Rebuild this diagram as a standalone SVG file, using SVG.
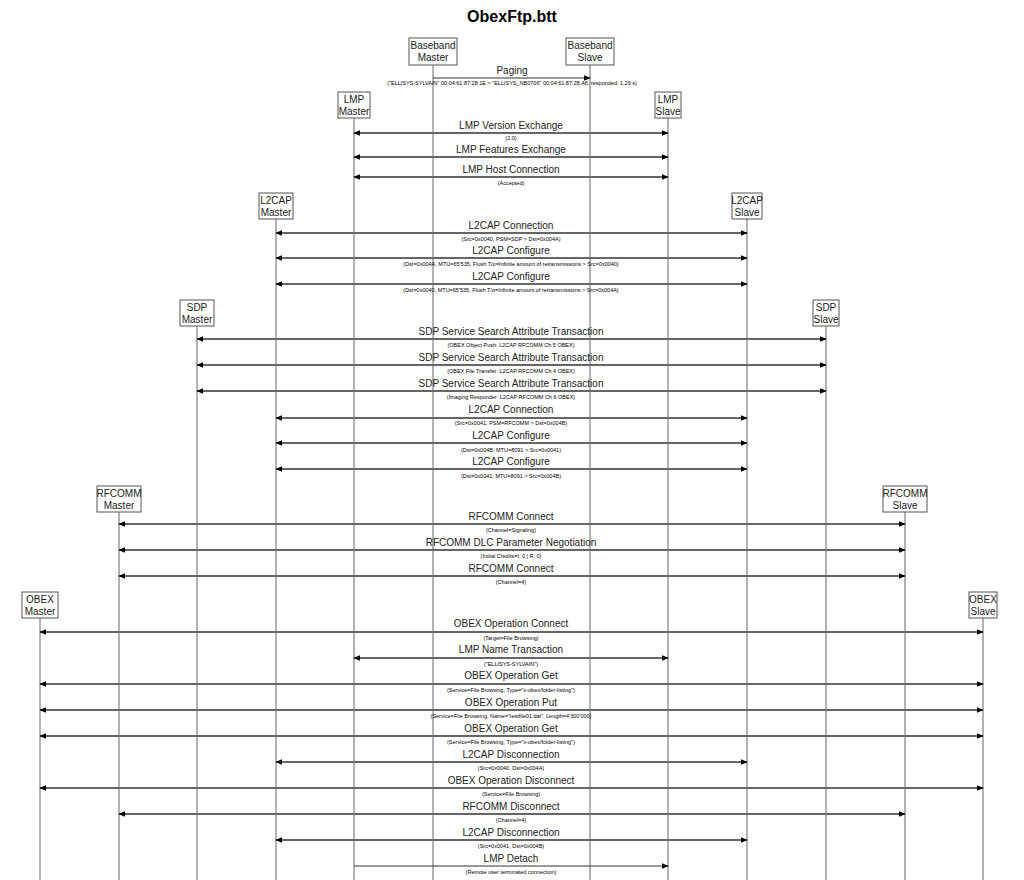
<svg xmlns="http://www.w3.org/2000/svg" width="1024" height="880" viewBox="0 0 1024 880">
<style>
text{font-family:"Liberation Sans",Arial,sans-serif;fill:#000;text-anchor:middle}
.t{font-size:16px;font-weight:bold}
.n{font-size:10px;fill:#222}
.l{font-size:10px;fill:#222}
.s{font-size:5.5px}
.box{fill:#fff;stroke:#555;stroke-width:1}
.life{stroke:#666;stroke-width:1}
.m{stroke:#666;stroke-width:2;marker-start:url(#a);marker-end:url(#a)}
.o{stroke:#333;stroke-width:1;marker-end:url(#a)}
</style>
<defs>
<marker id="a" viewBox="0 0 10 10" refX="9" refY="5" markerWidth="7" markerHeight="7" markerUnits="userSpaceOnUse" orient="auto-start-reverse"><path d="M0,1L10,5L0,9z" fill="#000"/></marker>
</defs>
<rect width="1024" height="880" fill="#fff"/>
<text class="t" x="512" y="22">ObexFtp.btt</text>
<g id="lifelines">
<line class="life" x1="433" y1="65" x2="433" y2="880"/><line class="life" x1="590" y1="65" x2="590" y2="880"/>
<line class="life" x1="354" y1="118" x2="354" y2="880"/><line class="life" x1="668" y1="118" x2="668" y2="880"/>
<line class="life" x1="276" y1="219" x2="276" y2="880"/><line class="life" x1="747" y1="219" x2="747" y2="880"/>
<line class="life" x1="197" y1="326" x2="197" y2="880"/><line class="life" x1="826" y1="326" x2="826" y2="880"/>
<line class="life" x1="119" y1="512" x2="119" y2="880"/><line class="life" x1="905" y1="512" x2="905" y2="880"/>
<line class="life" x1="40" y1="618" x2="40" y2="880"/><line class="life" x1="983" y1="618" x2="983" y2="880"/>
</g>
<g id="bbm"><rect class="box" x="409" y="38" width="48" height="27"/><text class="n" x="433" y="49">Baseband</text><text class="n" x="433" y="61">Master</text></g>
<g id="bbs"><rect class="box" x="566" y="38" width="48" height="27"/><text class="n" x="590" y="49">Baseband</text><text class="n" x="590" y="61">Slave</text></g>
<g id="lmpm"><rect class="box" x="338" y="92" width="32" height="26"/><text class="n" x="354" y="103">LMP</text><text class="n" x="354" y="115">Master</text></g>
<g id="lmps"><rect class="box" x="655" y="92" width="26" height="26"/><text class="n" x="668" y="103">LMP</text><text class="n" x="668" y="115">Slave</text></g>
<g id="l2m"><rect class="box" x="259" y="193" width="34" height="26"/><text class="n" x="276" y="204">L2CAP</text><text class="n" x="276" y="216">Master</text></g>
<g id="l2s"><rect class="box" x="732" y="193" width="30" height="26"/><text class="n" x="747" y="204">L2CAP</text><text class="n" x="747" y="216">Slave</text></g>
<g id="sdpm"><rect class="box" x="180" y="300" width="34" height="26"/><text class="n" x="197" y="311">SDP</text><text class="n" x="197" y="323">Master</text></g>
<g id="sdps"><rect class="box" x="813" y="300" width="26" height="26"/><text class="n" x="826" y="311">SDP</text><text class="n" x="826" y="323">Slave</text></g>
<g id="rfm"><rect class="box" x="97" y="486" width="44" height="26"/><text class="n" x="119" y="497">RFCOMM</text><text class="n" x="119" y="509">Master</text></g>
<g id="rfs"><rect class="box" x="883" y="486" width="44" height="26"/><text class="n" x="905" y="497">RFCOMM</text><text class="n" x="905" y="509">Slave</text></g>
<g id="obm"><rect class="box" x="22" y="592" width="36" height="26"/><text class="n" x="40" y="603">OBEX</text><text class="n" x="40" y="615">Master</text></g>
<g id="obs"><rect class="box" x="969" y="592" width="28" height="26"/><text class="n" x="983" y="603">OBEX</text><text class="n" x="983" y="615">Slave</text></g>
<g id="connectors">
<line class="o" x1="433" y1="78" x2="590" y2="78"/><text class="l" x="512" y="74">Paging</text><text class="s" x="512" y="85">("ELLISYS-SYLVAIN" 00:04:61:87:28:1E &gt; "ELLISYS_NB0706" 00:04:61:87:28:A6, responded, 1.29 s)</text>
<line class="m" x1="354" y1="133" x2="668" y2="133"/><text class="l" x="511" y="129">LMP Version Exchange</text><text class="s" x="511" y="140">(2.0)</text>
<line class="m" x1="354" y1="157" x2="668" y2="157"/><text class="l" x="511" y="153">LMP Features Exchange</text>
<line class="m" x1="354" y1="177" x2="668" y2="177"/><text class="l" x="511" y="173">LMP Host Connection</text><text class="s" x="511" y="185">(Accepted)</text>
<line class="m" x1="276" y1="233" x2="747" y2="233"/><text class="l" x="511" y="229">L2CAP Connection</text><text class="s" x="511" y="241">(Src=0x0040, PSM=SDP &gt; Dst=0x004A)</text>
<line class="m" x1="276" y1="258" x2="747" y2="258"/><text class="l" x="511" y="254">L2CAP Configure</text><text class="s" x="511" y="266">(Dst=0x004A, MTU=65'535, Flush T/o=Infinite amount of retransmissions &gt; Src=0x0040)</text>
<line class="m" x1="276" y1="284" x2="747" y2="284"/><text class="l" x="511" y="280">L2CAP Configure</text><text class="s" x="511" y="292">(Dst=0x0040, MTU=65'535, Flush T/o=Infinite amount of retransmissions &gt; Src=0x004A)</text>
<line class="m" x1="197" y1="339" x2="826" y2="339"/><text class="l" x="511" y="335">SDP Service Search Attribute Transaction</text><text class="s" x="511" y="347">(OBEX Object Push: L2CAP RFCOMM Ch 5 OBEX)</text>
<line class="m" x1="197" y1="365" x2="826" y2="365"/><text class="l" x="511" y="361">SDP Service Search Attribute Transaction</text><text class="s" x="511" y="373">(OBEX File Transfer: L2CAP RFCOMM Ch 4 OBEX)</text>
<line class="m" x1="197" y1="391" x2="826" y2="391"/><text class="l" x="511" y="387">SDP Service Search Attribute Transaction</text><text class="s" x="511" y="399">(Imaging Responder: L2CAP RFCOMM Ch 6 OBEX)</text>
<line class="m" x1="276" y1="418" x2="747" y2="418"/><text class="l" x="511" y="413">L2CAP Connection</text><text class="s" x="511" y="425">(Src=0x0041, PSM=RFCOMM &gt; Dst=0x004B)</text>
<line class="m" x1="276" y1="443" x2="747" y2="443"/><text class="l" x="511" y="439">L2CAP Configure</text><text class="s" x="511" y="452">(Dst=0x004B, MTU=8091 &gt; Src=0x0041)</text>
<line class="m" x1="276" y1="469" x2="747" y2="469"/><text class="l" x="511" y="465">L2CAP Configure</text><text class="s" x="511" y="478">(Dst=0x0041, MTU=8091 &gt; Src=0x004B)</text>
<line class="m" x1="119" y1="524" x2="905" y2="524"/><text class="l" x="511" y="520">RFCOMM Connect</text><text class="s" x="511" y="532">(Channel=Signaling)</text>
<line class="m" x1="119" y1="550" x2="905" y2="550"/><text class="l" x="511" y="546">RFCOMM DLC Parameter Negotiation</text><text class="s" x="511" y="558">(Initial Credits=I: 0 | R: 0)</text>
<line class="m" x1="119" y1="576" x2="905" y2="576"/><text class="l" x="511" y="572">RFCOMM Connect</text><text class="s" x="511" y="584">(Channel=4)</text>
<line class="m" x1="40" y1="632" x2="983" y2="632"/><text class="l" x="511" y="627">OBEX Operation Connect</text><text class="s" x="511" y="640">(Target=File Browsing)</text>
<line class="m" x1="354" y1="658" x2="668" y2="658"/><text class="l" x="511" y="653">LMP Name Transaction</text><text class="s" x="511" y="666">("ELLISYS-SYLVAIN")</text>
<line class="m" x1="40" y1="684" x2="983" y2="684"/><text class="l" x="511" y="679">OBEX Operation Get</text><text class="s" x="511" y="692">(Service=File Browsing, Type="x-obex/folder-listing")</text>
<line class="m" x1="40" y1="710" x2="983" y2="710"/><text class="l" x="511" y="706">OBEX Operation Put</text><text class="s" x="511" y="718">(Service=File Browsing, Name="testfile01.dat", Length=4'300'000)</text>
<line class="m" x1="40" y1="736" x2="983" y2="736"/><text class="l" x="511" y="732">OBEX Operation Get</text><text class="s" x="511" y="744">(Service=File Browsing, Type="x-obex/folder-listing")</text>
<line class="m" x1="276" y1="762" x2="747" y2="762"/><text class="l" x="511" y="758">L2CAP Disconnection</text><text class="s" x="511" y="770">(Src=0x0040, Dst=0x004A)</text>
<line class="m" x1="40" y1="788" x2="983" y2="788"/><text class="l" x="511" y="784">OBEX Operation Disconnect</text><text class="s" x="511" y="796">(Service=File Browsing)</text>
<line class="m" x1="119" y1="814" x2="905" y2="814"/><text class="l" x="511" y="810">RFCOMM Disconnect</text><text class="s" x="511" y="822">(Channel=4)</text>
<line class="m" x1="276" y1="840" x2="747" y2="840"/><text class="l" x="511" y="836">L2CAP Disconnection</text><text class="s" x="511" y="848">(Src=0x0041, Dst=0x004B)</text>
<line class="o" x1="354" y1="866" x2="668" y2="866"/><text class="l" x="511" y="862">LMP Detach</text><text class="s" x="511" y="874">(Remote user terminated connection)</text>
</g>
</svg>
